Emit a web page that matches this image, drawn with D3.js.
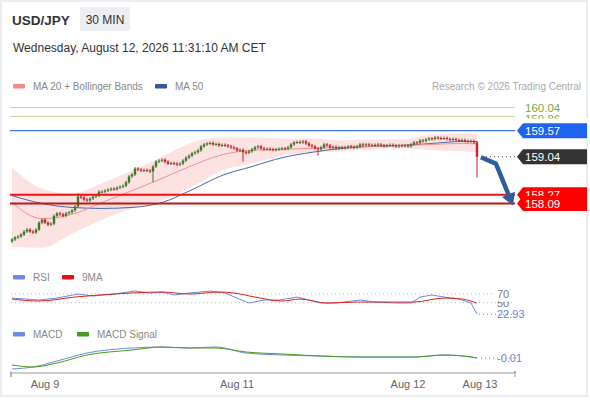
<!DOCTYPE html>
<html>
<head>
<meta charset="utf-8">
<script src="https://cdn.jsdelivr.net/npm/d3@7"></script>
<style>
  html, body { margin: 0; padding: 0; background: #fff; }
  svg { display: block; font-family: "Liberation Sans", Arial, sans-serif; }
</style>
</head>
<body>
<svg id="chart" width="590" height="400"></svg>
<script>
// ---- data ----
const closes = [
  157.36,157.40,157.42,157.46,157.52,157.56,157.52,157.50,157.56,157.70,
  157.76,157.70,157.66,157.68,157.84,157.89,157.87,157.84,157.89,157.91,
  157.95,158.03,158.23,158.21,158.17,158.15,158.19,158.23,158.25,158.33,
  158.33,158.35,158.37,158.39,158.38,158.41,158.43,158.45,158.52,158.64,
  158.68,158.80,158.78,158.76,158.77,158.76,158.74,158.84,158.94,158.96,
  158.98,158.94,158.90,158.91,158.90,158.88,158.90,158.96,159.02,159.06,
  159.11,159.13,159.17,159.25,159.29,159.31,159.32,159.29,159.30,159.27,
  159.28,159.27,159.25,159.23,159.21,159.17,159.18,159.13,159.12,159.15,
  159.19,159.23,159.25,159.21,159.19,159.20,159.19,159.18,159.19,159.20,
  159.21,159.20,159.23,159.29,159.33,159.34,159.33,159.35,159.31,159.27,
  159.25,159.21,159.19,159.23,159.29,159.27,159.23,159.24,159.21,159.23,
  159.22,159.23,159.25,159.24,159.23,159.25,159.29,159.28,159.29,159.27,
  159.28,159.27,159.29,159.27,159.26,159.27,159.28,159.27,159.25,159.27,
  159.26,159.27,159.25,159.29,159.33,159.32,159.37,159.36,159.39,159.41,
  159.40,159.43,159.42,159.41,159.42,159.40,159.39,159.40,159.38,159.37,
  159.38,159.36,159.35,159.36,159.33,159.04
];
const firstOpen = 157.32;
const longLows = { 47: 158.52, 77: 158.94, 102: 159.06, 155: 158.62 };
const longHighs = { 22: 158.30, 39: 158.67 };

const bandIdx = [0, 10, 20, 30, 40, 50, 60, 70, 80, 90, 100, 110, 120, 130, 140, 150, 155];
const ma20    = [158.11,157.78,157.87,158.11,158.35,158.60,158.86,159.08,159.17,159.19,159.21,159.23,159.25,159.27,159.29,159.31,159.30];
const bbUpper = [158.82,158.39,158.29,158.50,158.76,159.04,159.33,159.43,159.43,159.41,159.41,159.37,159.39,159.39,159.49,159.51,159.51];
const bbLower = [157.21,157.19,157.48,157.76,157.99,158.15,158.43,158.76,158.90,159.06,159.13,159.15,159.19,159.21,159.17,159.15,159.13];
const ma50    = [158.25,158.09,158.01,157.99,158.01,158.11,158.37,158.66,158.84,159.02,159.13,159.21,159.25,159.27,159.31,159.35,159.35];

const levelValues = [160.04, 159.86, 159.57, 158.27, 158.09];
const lastPrice = 159.04;
const arrowPoints = [[156.3, 159.03], [161.3, 158.90], [167, 158.05]];

const rsiIdx  = [0,9,15,22,27,34,41,46,50,54,59,66,71,75,79,84,89,95,99,103,108,116,121,128,133,136,140,144,149,153,155];
const rsiVals = [60.7,56.1,60.7,70,65.4,70,77,72.3,74.6,67.7,72.3,77,72.3,60.7,49.1,56.1,56.1,63,56.1,49.1,49.1,56.1,51.4,49.1,49.1,63,67.7,63,58.4,49.1,22.93];
const rsiMaIdx  = [0,9,21,34,50,59,69,74,81,90,96,105,115,128,134,144,150,155];
const rsiMaVals = [58.4,53.8,63,70,74.6,70,74.6,72.3,63,53.8,58.4,49.1,51.4,51.4,51.4,60.7,58.4,49.1];
const rsiGrid = [70, 50];

const macdIdx  = [0,7,15,25,40,50,59,68,78,90,103,115,134,144,153,155];
const macdVals = [-0.23,-0.19,-0.07,0.09,0.19,0.21,0.19,0.21,0.09,0.05,0.03,0.01,0.01,0.05,0.01,-0.01];
const sigVals  = [-0.15,-0.19,-0.11,0.05,0.15,0.21,0.19,0.19,0.11,0.07,0.03,0.01,0.01,0.05,0.01,-0.01];

const tickIdx = [11, 75, 132, 156];
const tickLabels = ["Aug 9", "Aug 11", "Aug 12", "Aug 13"];

// ---- layout ----
const svg = d3.select("#chart");
const plotL = 10, plotR = 515, tagX = 517, tagR = 587;

const x = d3.scaleLinear().domain([0, 155]).range([12, 477]);
const y = d3.scaleLinear().domain([158.09, 160.04]).range([203.5, 107.5]);
const yRsi = d3.scaleLinear().domain([0, 100]).range([324.2, 281.1]);
const yMacd = d3.scaleLinear().domain([-0.01, 0.21]).range([358, 347]);

const GREEN = "#3c7a2b", RED = "#c8202c";

// frame
svg.append("rect").attr("x", 1).attr("y", 1).attr("width", 586).attr("height", 395)
  .attr("fill", "#fff").attr("stroke", "#e6e8eb").attr("stroke-width", 1.5);

// header
svg.append("text").attr("x", 12).attr("y", 25).attr("font-size", 13.5).attr("font-weight", "bold")
  .attr("fill", "#333").text("USD/JPY");
svg.append("rect").attr("x", 80).attr("y", 7).attr("width", 50).attr("height", 24).attr("rx", 1)
  .attr("fill", "#eceef1");
svg.append("text").attr("x", 105).attr("y", 23.5).attr("text-anchor", "middle").attr("font-size", 12)
  .attr("fill", "#333").text("30 MIN");
svg.append("text").attr("x", 13).attr("y", 52).attr("font-size", 12).attr("fill", "#333")
  .text("Wednesday, August 12, 2026 11:31:10 AM CET");

function legend(items, yy) {
  items.forEach(([lx, color, label]) => {
    svg.append("rect").attr("x", lx).attr("y", yy - 2).attr("width", 12).attr("height", 4.5)
      .attr("rx", 1).attr("fill", color);
    svg.append("text").attr("x", lx + 20).attr("y", yy + 3.5).attr("font-size", 10)
      .attr("fill", "#888").text(label);
  });
}
legend([[13, "#f58a8a", "MA 20 + Bollinger Bands"], [155, "#34589a", "MA 50"]], 86);
svg.append("text").attr("x", 581).attr("y", 89.5).attr("text-anchor", "end").attr("font-size", 10)
  .attr("fill", "#aaa").text("Research \u00a9 2026 Trading Central");

// ---- price panel ----
svg.append("defs").append("clipPath").attr("id", "pclip")
  .append("rect").attr("x", plotL).attr("y", 96).attr("width", plotR - plotL).attr("height", 156);
const p = svg.append("g").attr("clip-path", "url(#pclip)");

const band = d3.area().curve(d3.curveMonotoneX)
  .x((d, i) => x(bandIdx[i])).y0((d, i) => y(bbLower[i])).y1(d => y(d));
p.append("path").datum(bbUpper).attr("d", band).attr("fill", "#fde2e2");

const lineOf = (idx, yS, c) => d3.line().curve(c || d3.curveMonotoneX)
  .x((d, i) => x(idx[i])).y(d => yS(d));
p.append("path").datum(ma50).attr("d", lineOf(bandIdx, y)).attr("fill", "none")
  .attr("stroke", "#4a68a6").attr("stroke-width", 1);
p.append("path").datum(ma20).attr("d", lineOf(bandIdx, y)).attr("fill", "none")
  .attr("stroke", "#f29393").attr("stroke-width", 1);

const candles = closes.map((c, i) => {
  const o = i === 0 ? firstOpen : closes[i - 1];
  return {
    i, o, c,
    h: longHighs[i] !== undefined ? longHighs[i] : Math.max(o, c) + 0.03,
    l: longLows[i] !== undefined ? longLows[i] : Math.min(o, c) - 0.03
  };
});
const cg = p.append("g");
cg.selectAll("line").data(candles).join("line")
  .attr("x1", d => x(d.i)).attr("x2", d => x(d.i))
  .attr("y1", d => y(d.h)).attr("y2", d => y(d.l))
  .attr("stroke", d => d.c >= d.o ? GREEN : RED).attr("stroke-width", 1);
cg.selectAll("rect").data(candles).join("rect")
  .attr("x", d => x(d.i) - 1.2).attr("width", 2.4)
  .attr("y", d => y(Math.max(d.o, d.c)))
  .attr("height", d => Math.max(1, Math.abs(y(d.o) - y(d.c))))
  .attr("fill", d => d.c >= d.o ? GREEN : RED);

// level lines
const levelStyle = [
  { stroke: "#c2d69b", w: 1 }, { stroke: "#c2d69b", w: 1 }, { stroke: "#3f73e6", w: 1.2 },
  { stroke: "#f01010", w: 2 }, { stroke: "#c0141c", w: 2 }
];
levelValues.forEach((v, k) => {
  svg.append("line").attr("x1", plotL).attr("x2", plotR).attr("y1", y(v)).attr("y2", y(v))
    .attr("stroke", levelStyle[k].stroke).attr("stroke-width", levelStyle[k].w);
});

// current price dotted line
svg.append("line").attr("x1", x(155) + 5).attr("x2", plotR).attr("y1", y(lastPrice)).attr("y2", y(lastPrice))
  .attr("stroke", "#444").attr("stroke-width", 1).attr("stroke-dasharray", "1,3");

// arrow
const ap = arrowPoints.map(([i, v]) => [x(i), y(v)]);
const tip = ap[2], prev = ap[1];
const dx = tip[0] - prev[0], dy = tip[1] - prev[1], len = Math.hypot(dx, dy);
const ux = dx / len, uy = dy / len;
const base = [tip[0] - ux * 12, tip[1] - uy * 12];
svg.append("path").attr("d", d3.line()([ap[0], ap[1], base])).attr("fill", "none")
  .attr("stroke", "#2f5e9f").attr("stroke-width", 4.5).attr("stroke-linejoin", "round");
svg.append("path").attr("d", d3.line()([tip, [base[0] - uy * 7, base[1] + ux * 7], [base[0] + uy * 7, base[1] - ux * 7]]) + "Z")
  .attr("fill", "#2f5e9f");

// right-hand labels
function tag(v, fill, yy) {
  const c = yy !== undefined ? yy : y(v);
  svg.append("path")
    .attr("d", `M${tagX},${c}L${tagX + 6},${c - 7.5}H${tagR}V${c + 7.5}H${tagX + 6}Z`)
    .attr("fill", fill);
  svg.append("text").attr("x", tagX + 8).attr("y", c).attr("dy", "0.36em").attr("font-size", 11.5)
    .attr("fill", "#fff").text(v.toFixed(2));
}
svg.append("text").attr("x", 525).attr("y", y(160.04)).attr("dy", "0.36em").attr("font-size", 11.5)
  .attr("fill", "#7aa83a").text("160.04");
svg.append("text").attr("x", 525).attr("y", y(159.86) + 2.5).attr("dy", "0.36em").attr("font-size", 11.5)
  .attr("fill", "#7aa83a").text("159.86");
svg.append("rect").attr("x", 519).attr("y", 118.5).attr("width", 70).attr("height", 5).attr("fill", "#fff");
tag(159.57, "#1e64f0");
tag(lastPrice, "#333333");
tag(158.27, "#ff0000");
tag(158.09, "#ff0000");

// ---- RSI panel ----
legend([[13, "#6a8ddf", "RSI"], [62, "#e01616", "9MA"]], 277);
rsiGrid.forEach(v => {
  svg.append("line").attr("x1", 11).attr("x2", plotR).attr("y1", yRsi(v)).attr("y2", yRsi(v))
    .attr("stroke", "#bbb").attr("stroke-dasharray", "1,3");
});
svg.append("line").attr("x1", x(155) + 2).attr("x2", plotR)
  .attr("y1", yRsi(rsiVals[rsiVals.length - 1])).attr("y2", yRsi(rsiVals[rsiVals.length - 1]))
  .attr("stroke", "#888").attr("stroke-dasharray", "1,3");
svg.append("path").datum(rsiVals).attr("d", lineOf(rsiIdx, yRsi, d3.curveLinear)).attr("fill", "none")
  .attr("stroke", "#6a8ddf").attr("stroke-width", 1);
svg.append("path").datum(rsiMaVals).attr("d", lineOf(rsiMaIdx, yRsi)).attr("fill", "none")
  .attr("stroke", "#e02020").attr("stroke-width", 1);
svg.append("text").attr("x", 497).attr("y", yRsi(50)).attr("dy", "0.36em").attr("font-size", 11)
  .attr("fill", "#777").text("50");
svg.append("rect").attr("x", 494).attr("y", 286).attr("width", 20).attr("height", 15.5).attr("fill", "#fff");
svg.append("text").attr("x", 497).attr("y", yRsi(70)).attr("dy", "0.36em").attr("font-size", 11)
  .attr("fill", "#777").text("70");
svg.append("text").attr("x", 497).attr("y", yRsi(rsiVals[rsiVals.length - 1])).attr("dy", "0.36em")
  .attr("font-size", 11).attr("fill", "#6a85d0").text(rsiVals[rsiVals.length - 1].toFixed(2));

// ---- MACD panel ----
legend([[13, "#6a8ddf", "MACD"], [77, "#4a9a1e", "MACD Signal"]], 334);
const lastMacd = macdVals[macdVals.length - 1];
svg.append("line").attr("x1", x(155) + 4).attr("x2", plotR).attr("y1", yMacd(lastMacd)).attr("y2", yMacd(lastMacd))
  .attr("stroke", "#888").attr("stroke-dasharray", "1,3");
svg.append("path").datum(macdVals).attr("d", lineOf(macdIdx, yMacd)).attr("fill", "none")
  .attr("stroke", "#6a8ddf").attr("stroke-width", 1);
svg.append("path").datum(sigVals).attr("d", lineOf(macdIdx, yMacd)).attr("fill", "none")
  .attr("stroke", "#4a9a1e").attr("stroke-width", 1);
svg.append("text").attr("x", 497).attr("y", yMacd(lastMacd)).attr("dy", "0.36em").attr("font-size", 11)
  .attr("fill", "#6a85d0").text(lastMacd.toFixed(2));

// ---- time axis ----
const ax = svg.append("g").attr("transform", "translate(0,373)");
ax.append("path").attr("d", `M11,-2V4V0H${plotR}V-2V4`).attr("fill", "none").attr("stroke", "#999");
ax.selectAll("text").data(tickIdx).join("text")
  .attr("x", d => x(d)).attr("y", 15).attr("text-anchor", "middle").attr("font-size", 11)
  .attr("fill", "#666").text((d, i) => tickLabels[i]);
</script>
</body>
</html>
